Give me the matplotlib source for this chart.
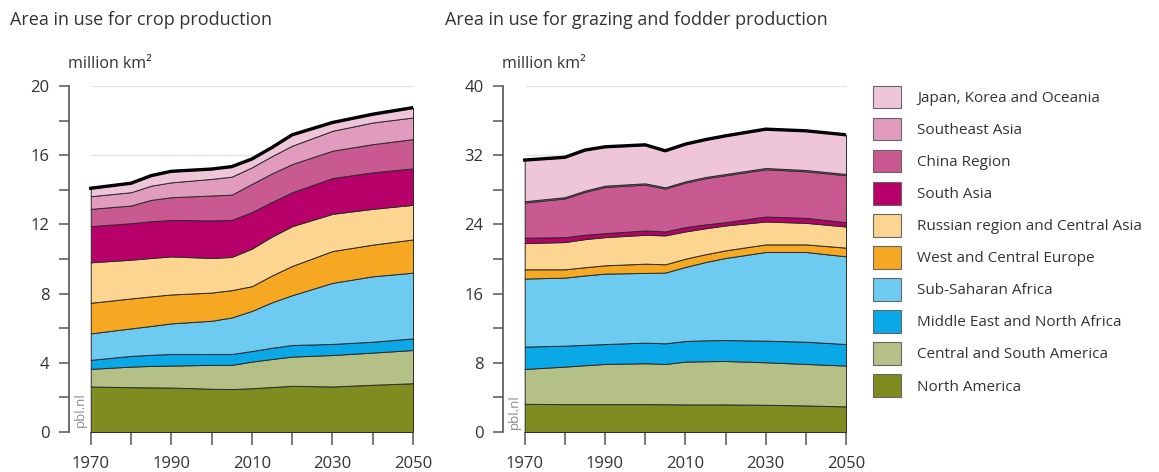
import matplotlib
matplotlib.use("Agg")
import matplotlib.pyplot as plt
from matplotlib.patches import Patch
from matplotlib.ticker import MultipleLocator

plt.rcParams['font.family'] = ['Open Sans', 'DejaVu Sans']

# data (million km2), stacked bottom to top
years = [1970, 1980, 1985, 1990, 2000, 2005, 2010, 2015, 2020, 2030, 2040, 2050]
regions = ['North America', 'Central and South America', 'Middle East and North Africa',
           'Sub-Saharan Africa', 'West and Central Europe', 'Russian region and Central Asia',
           'South Asia', 'China Region', 'Southeast Asia', 'Japan, Korea and Oceania']
colors = ['#7f8c1f', '#b5c086', '#0aa8e6', '#6dcbf2', '#f7a823', '#fcd591',
          '#b8006b', '#c95a91', '#e09bbf', '#efc6d9']

crop_na = [2.63, 2.59, 2.58, 2.57, 2.50, 2.48, 2.53, 2.60, 2.67, 2.63, 2.73, 2.82]
crop_csa = [1.02, 1.19, 1.24, 1.27, 1.38, 1.40, 1.54, 1.62, 1.69, 1.82, 1.86, 1.92]
crop_mena = [0.52, 0.62, 0.64, 0.67, 0.63, 0.63, 0.61, 0.65, 0.67, 0.64, 0.63, 0.67]
crop_ssa = [1.53, 1.59, 1.67, 1.77, 1.92, 2.11, 2.32, 2.63, 2.88, 3.53, 3.78, 3.80]
crop_wce = [1.77, 1.73, 1.71, 1.67, 1.63, 1.58, 1.43, 1.55, 1.69, 1.84, 1.83, 1.92]
crop_rus = [2.34, 2.24, 2.22, 2.20, 2.00, 1.92, 2.17, 2.25, 2.30, 2.15, 2.07, 2.00]
crop_sa = [2.09, 2.11, 2.12, 2.11, 2.17, 2.14, 2.11, 2.00, 1.96, 2.07, 2.11, 2.11]
crop_china = [1.00, 1.02, 1.24, 1.31, 1.44, 1.46, 1.63, 1.65, 1.63, 1.58, 1.63, 1.69]
crop_sea = [0.73, 0.77, 0.82, 0.86, 0.96, 1.04, 0.96, 1.00, 1.06, 1.15, 1.25, 1.25]
crop_jko = [0.46, 0.52, 0.58, 0.64, 0.57, 0.58, 0.48, 0.50, 0.63, 0.48, 0.48, 0.57]

graz_na = [3.26, 3.22, 3.22, 3.22, 3.22, 3.21, 3.19, 3.19, 3.19, 3.15, 3.07, 2.96]
graz_csa = [4.03, 4.34, 4.50, 4.65, 4.73, 4.66, 4.95, 4.99, 5.02, 4.91, 4.80, 4.72]
graz_mena = [2.58, 2.42, 2.36, 2.30, 2.38, 2.38, 2.38, 2.42, 2.42, 2.50, 2.57, 2.49]
graz_ssa = [7.87, 7.87, 8.02, 8.14, 8.06, 8.18, 8.56, 9.05, 9.49, 10.25, 10.37, 10.14]
graz_wce = [1.07, 0.96, 0.95, 0.96, 1.07, 0.96, 0.96, 0.90, 0.88, 0.88, 0.88, 1.00]
graz_rus = [3.03, 3.15, 3.25, 3.26, 3.34, 3.34, 3.15, 3.00, 2.88, 2.65, 2.49, 2.45]
graz_sa = [0.62, 0.57, 0.50, 0.46, 0.50, 0.46, 0.50, 0.45, 0.38, 0.57, 0.58, 0.50]
graz_china = [4.07, 4.47, 4.96, 5.34, 5.30, 4.95, 5.14, 5.33, 5.42, 5.46, 5.38, 5.42]
graz_sea = [0.15, 0.15, 0.15, 0.15, 0.15, 0.15, 0.15, 0.15, 0.15, 0.15, 0.15, 0.15]
graz_jko = [4.76, 4.61, 4.68, 4.49, 4.45, 4.22, 4.30, 4.32, 4.41, 4.49, 4.53, 4.53]

crop = [crop_na, crop_csa, crop_mena, crop_ssa, crop_wce, crop_rus,
        crop_sa, crop_china, crop_sea, crop_jko]
grazing = [graz_na, graz_csa, graz_mena, graz_ssa, graz_wce, graz_rus,
           graz_sa, graz_china, graz_sea, graz_jko]

W, H = 1159, 472
fig = plt.figure(figsize=(W / 100, H / 100), dpi=100)
text_col = '#333333'


def px_axes(left, right, top, bottom):
    return fig.add_axes([left / W, 1 - bottom / H, (right - left) / W, (bottom - top) / H])


def draw_panel(ax, series, ymax, ystep, x0):
    ax.stackplot(years, *series, colors=colors, edgecolor='#2b2b2b', linewidth=0.7, zorder=2)
    totals = [sum(v) for v in zip(*series)]
    ax.plot(years, totals, color='black', linewidth=2.4, zorder=3)
    for y in range(ystep, ymax + 1, ystep):
        ax.hlines(y, 1970, 2050, color='#e4e4e4', linewidth=1, zorder=1)
    ax.set_xlim(x0, 2050)
    ax.set_ylim(0, ymax)
    for s in ['top', 'right', 'bottom']:
        ax.spines[s].set_visible(False)
    ax.spines['left'].set_color('#555555')
    ax.spines['left'].set_linewidth(1.2)
    ax.set_xticks([1970, 1990, 2010, 2030, 2050])
    ax.xaxis.set_minor_locator(MultipleLocator(10))
    ax.set_yticks(range(0, ymax + 1, ystep))
    ax.yaxis.set_minor_locator(MultipleLocator(ystep / 2))
    ax.tick_params(axis='x', which='both', direction='out', length=9, width=1.1,
                   color='#555555', labelsize=12, labelcolor=text_col, pad=8)
    ax.tick_params(axis='y', which='both', direction='out', length=7, width=1.1,
                   color='#555555', labelsize=12, labelcolor=text_col, pad=7)
    ax.text(1965.8, 0.3, 'pbl.nl', rotation=90, fontsize=9.5, color='#8a8a8a',
            ha='left', va='bottom', zorder=4)


ax1 = px_axes(69, 413, 86, 432)
draw_panel(ax1, crop, 20, 4, 1964.6)
ax2 = px_axes(503, 846, 86, 432)
draw_panel(ax2, grazing, 40, 8, 1964.6)

fig.text(10 / W, 1 - 20 / H, 'Area in use for crop production', fontsize=13,
         color=text_col, va='center', ha='left')
fig.text(445 / W, 1 - 20 / H, 'Area in use for grazing and fodder production', fontsize=13,
         color=text_col, va='center', ha='left')
fig.text(68 / W, 1 - 64 / H, 'million km²', fontsize=11.5, color=text_col, va='center')
fig.text(502 / W, 1 - 64 / H, 'million km²', fontsize=11.5, color=text_col, va='center')

handles = [Patch(facecolor=c, edgecolor='#666666', linewidth=0.8) for c in colors][::-1]
fig.legend(handles, regions[::-1], loc='upper left', bbox_to_anchor=(865 / W, 1 - 78 / H),
           frameon=False, fontsize=11, labelcolor=text_col, handlelength=1.83,
           handleheight=1.9, labelspacing=0.62, handletextpad=1.1, borderpad=0)

fig.savefig('out.png', dpi=100)
